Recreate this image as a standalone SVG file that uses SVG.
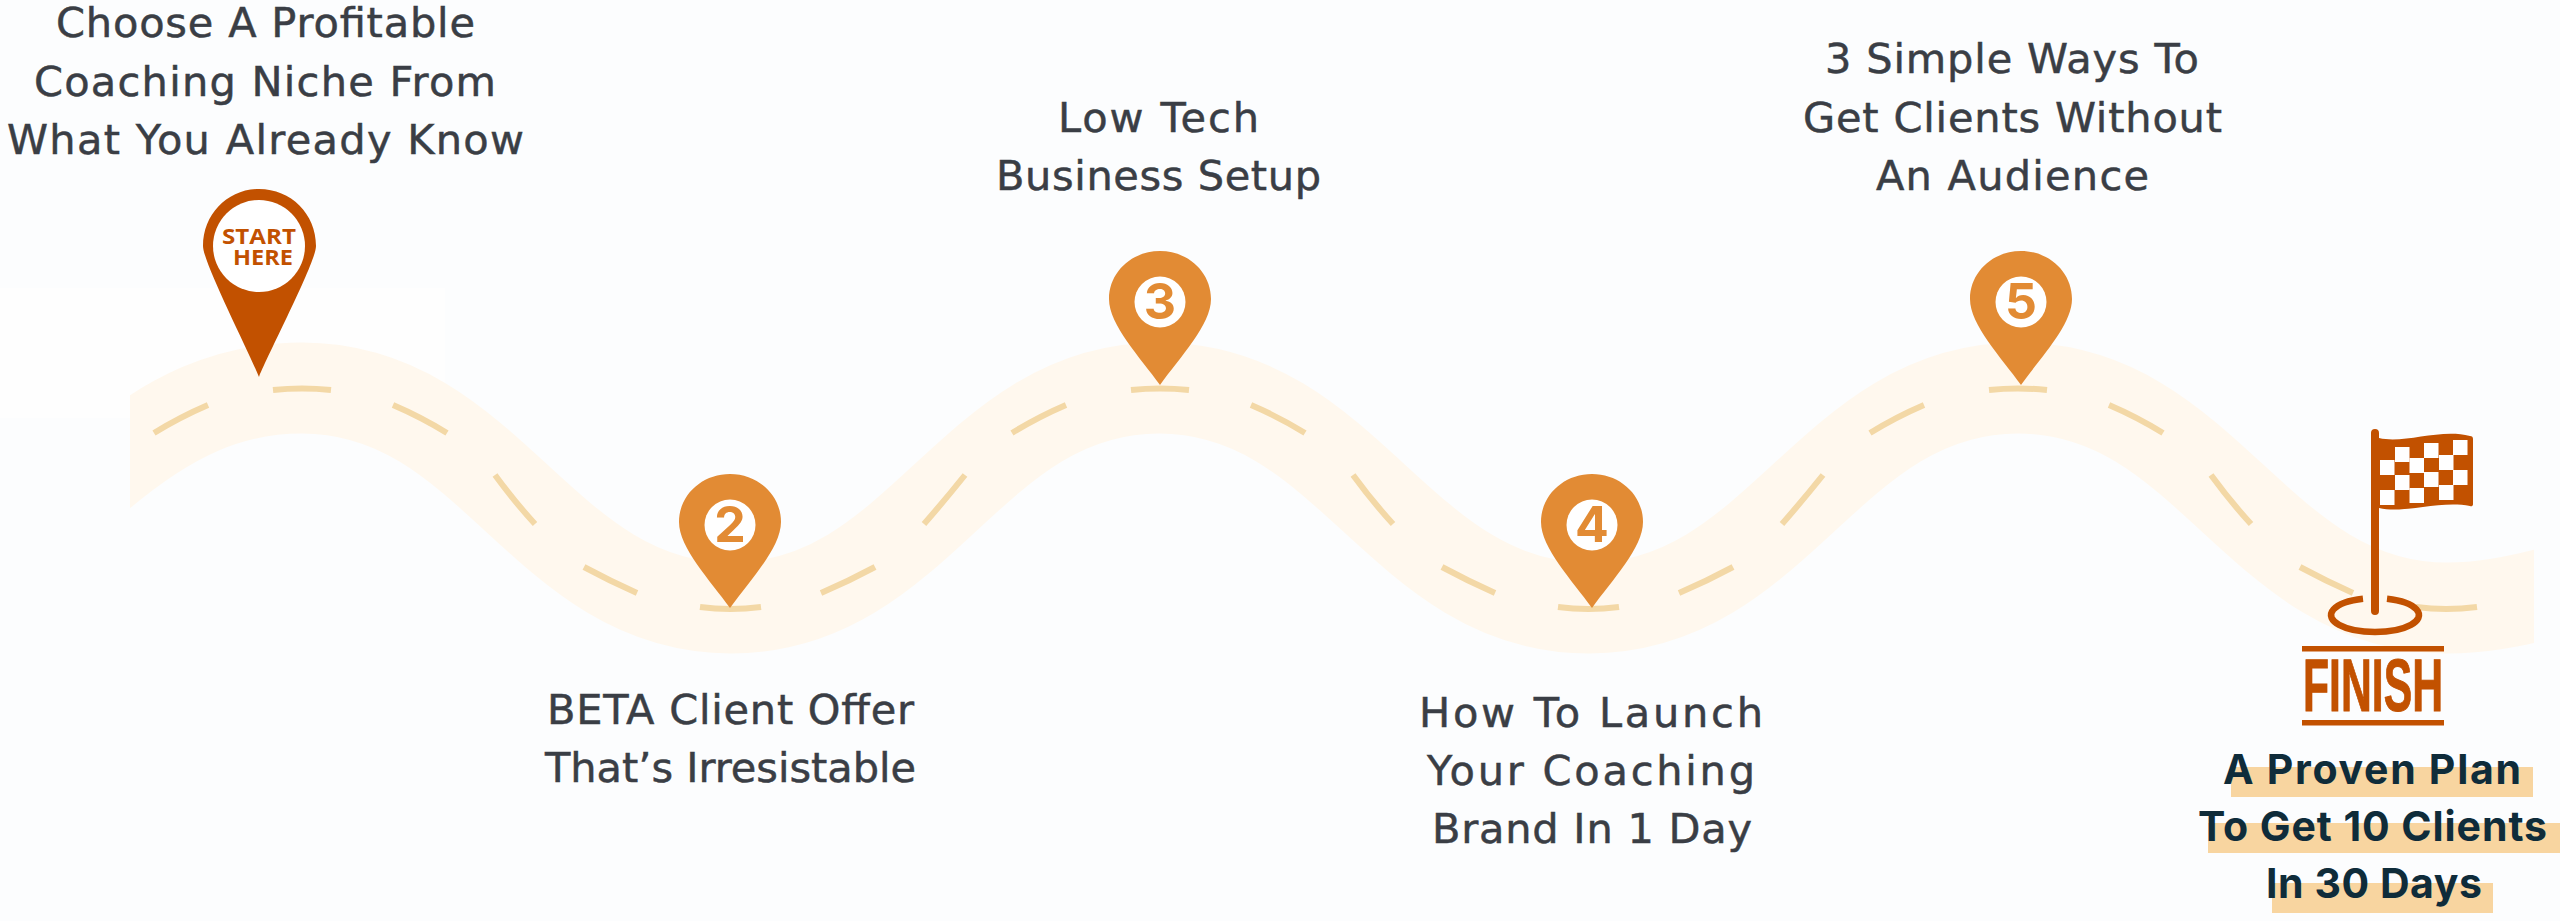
<svg xmlns="http://www.w3.org/2000/svg" xmlns:xlink="http://www.w3.org/1999/xlink" width="2560" height="921" viewBox="0 0 2560 921">
<style>
.t{font-family:"DejaVu Sans",Inter,"Liberation Sans",sans-serif;font-size:41.5px;font-weight:400;fill:#3a3e45;stroke:#3a3e45;stroke-width:.5}
.b{font-family:Inter,"Open Sans","Liberation Sans",sans-serif;font-size:41px;font-weight:700;fill:#0f2c3a}
.d{font-family:Inter,"Open Sans","Liberation Sans",sans-serif;font-size:50px;font-weight:700;fill:#e28b34;text-anchor:middle}
.s{font-family:"Open Sans","Liberation Sans",sans-serif;font-size:21px;font-weight:700;fill:#c25100}
.road{fill:none;stroke:#fff8ee;stroke-width:91}
.dash{fill:none;stroke:#f3d8a6;stroke-width:6}
.pin{fill:#e28b34}
.hl{fill:#f8d5a0}
.or{fill:#c25100}
</style>
<defs>
<clipPath id="roadclip"><rect x="130" y="300" width="2404" height="420"/></clipPath>
<path id="pinshape" d="M0,0C-20,-28 -51,-60 -51,-86C-51,-113 -28,-134 0,-134C28,-134 51,-113 51,-86C51,-60 20,-28 0,0Z"/>
<g id="dashA">
<path class="dash" d="M273,390Q302,387 331,390"/>
<path class="dash" d="M393,405Q421,417 447,433"/>
<path class="dash" d="M495,475Q514,501 535,524"/>
<path class="dash" d="M584,567Q610,581 637,593"/>
<path class="dash" d="M700,607Q730,611 761,607"/>
</g>
<g id="dashB">
<path class="dash" d="M821,593Q849,581 875,567"/>
<path class="dash" d="M924,524Q945,500 965,475"/>
<path class="dash" d="M1012,433Q1038,417 1066,405"/>
</g>
</defs>
<rect width="2560" height="921" fill="#fcfdfe"/>
<rect x="0" y="288" width="445" height="130" fill="#fefefe"/>
<g id="connectors">
<path class="road" clip-path="url(#roadclip)" d="M100,474C170,415 230,388 302,388C492,388 541,608 731,608C921,608 969,388 1159,388C1349,388 1399,608 1589,608C1779,608 1828,388 2018,388C2208,388 2257,608 2447,608C2480,608 2510,603 2560,590"/>
<path class="dash" d="M154,433Q180,417 208,405"/>
<use xlink:href="#dashA"/><use xlink:href="#dashB"/><use xlink:href="#dashA" x="858"/><use xlink:href="#dashB" x="858"/><use xlink:href="#dashA" x="1716"/>
</g>
<g id="node-1">
<text class="t" x="56" y="37" textLength="419">Choose A Profitable</text>
<text class="t" x="34" y="96" textLength="462">Coaching Niche From</text>
<text class="t" x="7" y="154" textLength="517">What You Already Know</text>
<path class="or" d="M259,377C248,350 203,262 203,246C203,214 228,189 259,189C291,189 316,214 316,246C316,262 270,350 259,377Z"/>
<ellipse cx="259" cy="246" rx="46" ry="46" fill="#fff"/>
<text class="s" x="222" y="244" textLength="74" lengthAdjust="spacingAndGlyphs">START</text>
<text class="s" x="233" y="265" textLength="60" lengthAdjust="spacingAndGlyphs">HERE</text>
</g>
<g id="node-2">
<use xlink:href="#pinshape" class="pin" x="730" y="608"/>
<circle cx="730" cy="525" r="25.5" fill="#fff"/>
<text class="d" x="730" y="542">2</text>
<text class="t" x="547" y="724" textLength="367">BETA Client Offer</text>
<text class="t" x="545" y="782" textLength="371">That’s Irresistable</text>
</g>
<g id="node-3">
<use xlink:href="#pinshape" class="pin" x="1160" y="385"/>
<circle cx="1160" cy="302" r="25.5" fill="#fff"/>
<text class="d" x="1160" y="319">3</text>
<text class="t" x="1058" y="132" textLength="201">Low Tech</text>
<text class="t" x="996" y="190" textLength="325">Business Setup</text>
</g>
<g id="node-4">
<use xlink:href="#pinshape" class="pin" x="1592" y="608"/>
<circle cx="1592" cy="525" r="25.5" fill="#fff"/>
<text class="d" x="1592" y="542">4</text>
<text class="t" x="1419" y="727" textLength="344">How To Launch</text>
<text class="t" x="1427" y="785" textLength="328">Your Coaching</text>
<text class="t" x="1432" y="843" textLength="320">Brand In 1 Day</text>
</g>
<g id="node-5">
<use xlink:href="#pinshape" class="pin" x="2021" y="385"/>
<circle cx="2021" cy="302" r="25.5" fill="#fff"/>
<text class="d" x="2021" y="319">5</text>
<text class="t" x="1825" y="73" textLength="374">3 Simple Ways To</text>
<text class="t" x="1803" y="132" textLength="419">Get Clients Without</text>
<text class="t" x="1876" y="190" textLength="273">An Audience</text>
</g>
<g id="node-finish">
<rect class="hl" x="2231" y="767" width="302" height="30"/>
<rect class="hl" x="2208" y="823" width="352" height="30"/>
<rect class="hl" x="2272" y="883" width="221" height="30"/>
<text class="b" x="2223" y="784" textLength="298">A Proven Plan</text>
<text class="b" x="2198" y="841" textLength="349">To Get 10 Clients</text>
<text class="b" x="2266" y="898" textLength="216">In 30 Days</text>
<path class="or" d="M2371,433a4,4 0 0 1 8,0v5C2405,444 2440,428 2470,436a3,3 0 0 1 3,3v65a2,2 0 0 1 -3,2C2440,500 2405,514 2379,508V611a4,4 0 0 1 -8,0Z"/>
<g fill="#fff">
<rect x="2395" y="447" width="14.5" height="15"/><rect x="2424" y="443" width="14.5" height="15"/><rect x="2453" y="440" width="14.5" height="15"/>
<rect x="2380" y="460" width="14.5" height="15"/><rect x="2409.500" y="458" width="14.500" height="15"/><rect x="2439" y="455" width="14.5" height="15"/>
<rect x="2395" y="475" width="14.5" height="15"/><rect x="2424" y="472" width="14.5" height="15"/><rect x="2453" y="470" width="14.5" height="15"/>
<rect x="2380" y="490" width="14.5" height="15"/><rect x="2409.500" y="488" width="14.500" height="15"/><rect x="2439" y="485" width="14.5" height="15"/>
</g>
<path d="M2387,598.700A44,17 0 1 1 2363,598.700" fill="none" stroke="#c25100" stroke-width="6.500"/>
<rect class="or" x="2302" y="646" width="142" height="5.500"/>
<rect class="or" x="2302" y="720" width="142" height="5.500"/>
<text x="2303" y="711" textLength="140" lengthAdjust="spacingAndGlyphs" font-family="'Liberation Sans Narrow','Liberation Sans',sans-serif" font-size="74" font-weight="700" fill="#c25100" stroke="#c25100" stroke-width="1">FINISH</text>
</g>
</svg>
